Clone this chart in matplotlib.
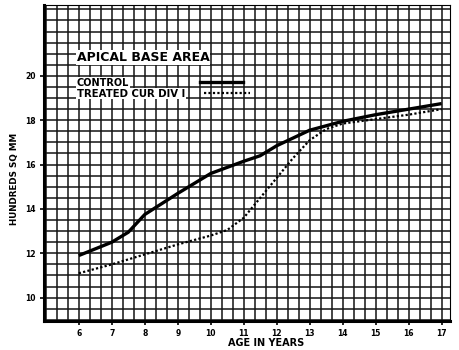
import numpy as np
import matplotlib.pyplot as plt
from matplotlib.ticker import MultipleLocator

# age in years
age_c = [6, 7, 7.5, 8, 9, 10, 11, 11.5, 12, 12.5, 13, 14, 15, 16, 17]
control = [11.9, 12.5, 12.95, 13.75, 14.7, 15.6, 16.15, 16.4, 16.85, 17.2, 17.55, 17.95, 18.25, 18.5, 18.75]
age_t = [6, 7, 8, 9, 10, 10.5, 11, 11.5, 12, 12.5, 13, 13.5, 14, 15, 16, 17]
treated = [11.1, 11.5, 11.95, 12.4, 12.8, 13.05, 13.6, 14.5, 15.4, 16.3, 17.1, 17.6, 17.85, 18.05, 18.25, 18.5]

xticks = list(range(6, 18))
yticks = [10, 12, 14, 16, 18, 20]

fig = plt.figure(figsize=(4.6, 3.5), dpi=100)
ax = fig.add_axes([0.096, 0.083, 0.882, 0.903])

ax.plot(age_c, control, color='black', lw=2.4, solid_capstyle='butt')
ax.plot(age_t, treated, color='black', lw=1.6, linestyle=(0, (1, 1)))

ax.set_xlim(4.95, 17.25)
ax.set_ylim(8.95, 23.2)
ax.xaxis.set_minor_locator(MultipleLocator(1/3))
ax.yaxis.set_minor_locator(MultipleLocator(0.5))
ax.set_xticks(xticks)
ax.set_yticks(yticks)
ax.set_xticklabels([str(v) for v in xticks], fontsize=5.5, fontweight='bold')
ax.set_yticklabels([str(v) for v in yticks], fontsize=5.5, fontweight='bold')
ax.grid(which='both', color='#141414', lw=1.1)
ax.set_axisbelow(True)
ax.tick_params(which='major', length=3, width=1.2, pad=3)
ax.tick_params(which='minor', length=0)

for s in ['left', 'bottom']:
    ax.spines[s].set_linewidth(2.2)
for s in ['top', 'right']:
    ax.spines[s].set_linewidth(0.8)

ax.set_ylabel('HUNDREDS SQ MM', fontsize=6.3, fontweight='bold')
ax.yaxis.set_label_coords(-0.062, 0.45)
ax.set_xlabel('AGE IN YEARS', fontsize=7, fontweight='bold')
ax.xaxis.set_label_coords(0.547, -0.055)

# legend drawn in place
bg = dict(facecolor='white', edgecolor='none', pad=0.5)
ax.text(5.94, 20.82, 'APICAL BASE AREA', fontsize=9, fontweight='bold', va='center', bbox=bg)
ax.text(5.94, 19.7, 'CONTROL', fontsize=7, fontweight='bold', va='center', bbox=bg)
ax.text(5.94, 19.2, 'TREATED CUR DIV I', fontsize=7.3, fontweight='bold', va='center', bbox=bg)
ax.plot([9.67, 10.97], [19.73, 19.73], color='black', lw=2.4)
ax.plot([9.8, 11.2], [19.25, 19.25], color='black', lw=1.6, linestyle=(0, (1, 1)))

fig.savefig('out.png', dpi=100)
